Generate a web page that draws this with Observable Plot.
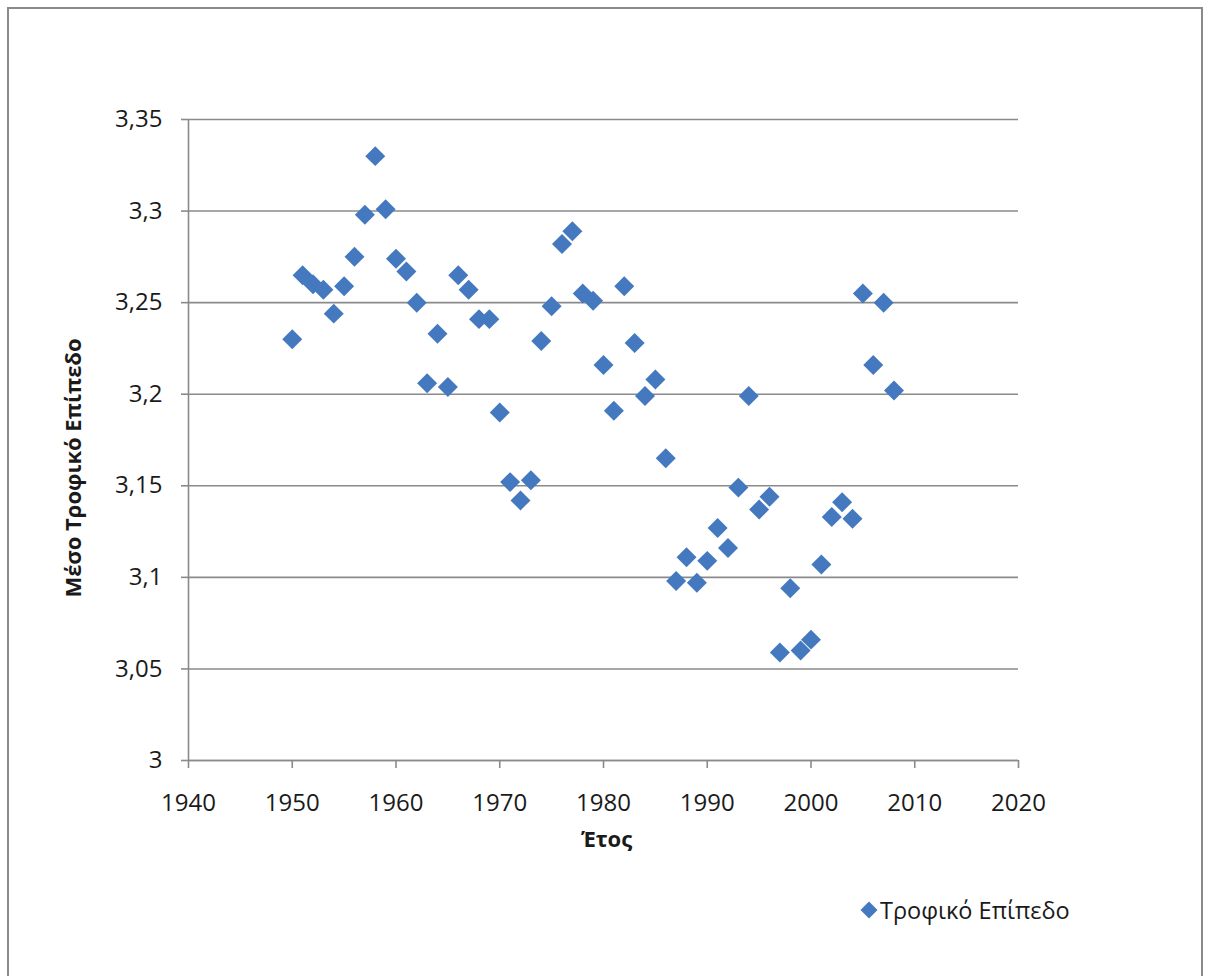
<!DOCTYPE html>
<html>
<head>
<meta charset="utf-8">
<script src="https://cdn.jsdelivr.net/npm/d3@7"></script>
<script src="https://cdn.jsdelivr.net/npm/@observablehq/plot@0.6"></script>
<style>
  html, body { margin: 0; padding: 0; background: #fff; overflow: hidden; }
  #wrap { position: relative; width: 1209px; height: 976px; overflow: hidden; font-family: "Open Sans", sans-serif; }
  #border { position: absolute; left: 7px; top: 7px; width: 1196px; height: 1000px; border: 2px solid #8a8a8a; box-sizing: border-box; }
  #chart { position: absolute; left: 0; top: 0; }
  #legend { position: absolute; left: 859px; top: 892px; font-size: 23.5px; color: #1a1a1a; display: flex; align-items: center; gap: 1px; line-height: 36px; }
</style>
</head>
<body>
<div id="wrap">
  <div id="border"></div>
  <div id="chart"></div>
  <div id="legend"></div>
</div>
<script>
const years = [1950,1951,1952,1953,1954,1955,1956,1957,1958,1959,
  1960,1961,1962,1963,1964,1965,1966,1967,1968,1969,
  1970,1971,1972,1973,1974,1975,1976,1977,1978,1979,
  1980,1981,1982,1983,1984,1985,1986,1987,1988,1989,
  1990,1991,1992,1993,1994,1995,1996,1997,1998,1999,
  2000,2001,2002,2003,2004,2005,2006,2007,2008];
const trophicLevel = [3.230,3.265,3.260,3.257,3.244,3.259,3.275,3.298,3.330,3.301,
  3.274,3.267,3.250,3.206,3.233,3.204,3.265,3.257,3.241,3.241,
  3.190,3.152,3.142,3.153,3.229,3.248,3.282,3.289,3.255,3.251,
  3.216,3.191,3.259,3.228,3.199,3.208,3.165,3.098,3.111,3.097,
  3.109,3.127,3.116,3.149,3.199,3.137,3.144,3.059,3.094,3.060,
  3.066,3.107,3.133,3.141,3.132,3.255,3.216,3.250,3.202];
const xTicks = [1940,1950,1960,1970,1980,1990,2000,2010,2020];
const yTicks = [3,3.05,3.1,3.15,3.2,3.25,3.3,3.35];
const seriesName = "Τροφικό Επίπεδο";
const xTitle = "Έτος";
const yTitle = "Μέσο Τροφικό Επίπεδο";

const data = years.map((year, i) => ({year, value: trophicLevel[i]}));
const gray = "#8a8a8a";
const blue = "#4579bf";
const ink = "#1a1a1a";

const chart = Plot.plot({
  width: 1209,
  height: 870,
  marginLeft: 188,
  marginRight: 191,
  marginTop: 119,
  marginBottom: 110,
  style: {fontFamily: "Open Sans, sans-serif", fontSize: "24px", color: ink, background: "transparent", overflow: "visible"},
  x: {domain: [1940, 2020]},
  y: {domain: [3, 3.35]},
  marks: [
    Plot.gridY(yTicks, {stroke: gray, strokeOpacity: 1, strokeWidth: 1.6}),
    Plot.ruleX([1940], {stroke: gray, strokeWidth: 1.6}),
    Plot.ruleY([3], {stroke: gray, strokeWidth: 1.6}),
    Plot.axisX({ticks: xTicks, tickSize: 8, tickFormat: () => "", stroke: gray, strokeWidth: 1.6, label: null}),
    Plot.axisX({ticks: xTicks, tickSize: 0, tickPadding: 33, tickFormat: d => String(d), fill: ink, fontSize: 24, label: null}),
    Plot.axisY({ticks: yTicks, tickSize: 7, tickFormat: () => "", stroke: gray, strokeWidth: 1.6, label: null}),
    Plot.axisY({ticks: yTicks, tickSize: 0, tickPadding: 26, tickFormat: d => String(d).replace(".", ","), fill: ink, fontSize: 24, label: null}),
    Plot.text([xTitle], {frameAnchor: "bottom", textAnchor: "middle", dx: 3, dy: 86, fontWeight: "bold", fontSize: 22, fill: ink}),
    Plot.text([yTitle], {frameAnchor: "left", textAnchor: "middle", dx: -115, dy: 28, rotate: -90, fontWeight: "bold", fontSize: 22, fill: ink}),
    Plot.dot(data, {x: "year", y: "value", symbol: "diamond2", r: 9, fill: blue, stroke: "none"})
  ]
});
document.getElementById("chart").appendChild(chart);

const legend = document.getElementById("legend");
legend.innerHTML = `<svg width="20" height="20" viewBox="-10 -10 20 20"><path d="M0,-8.5L8.5,0L0,8.5L-8.5,0Z" fill="${blue}"/></svg><span>${seriesName}</span>`;
</script>
</body>
</html>
